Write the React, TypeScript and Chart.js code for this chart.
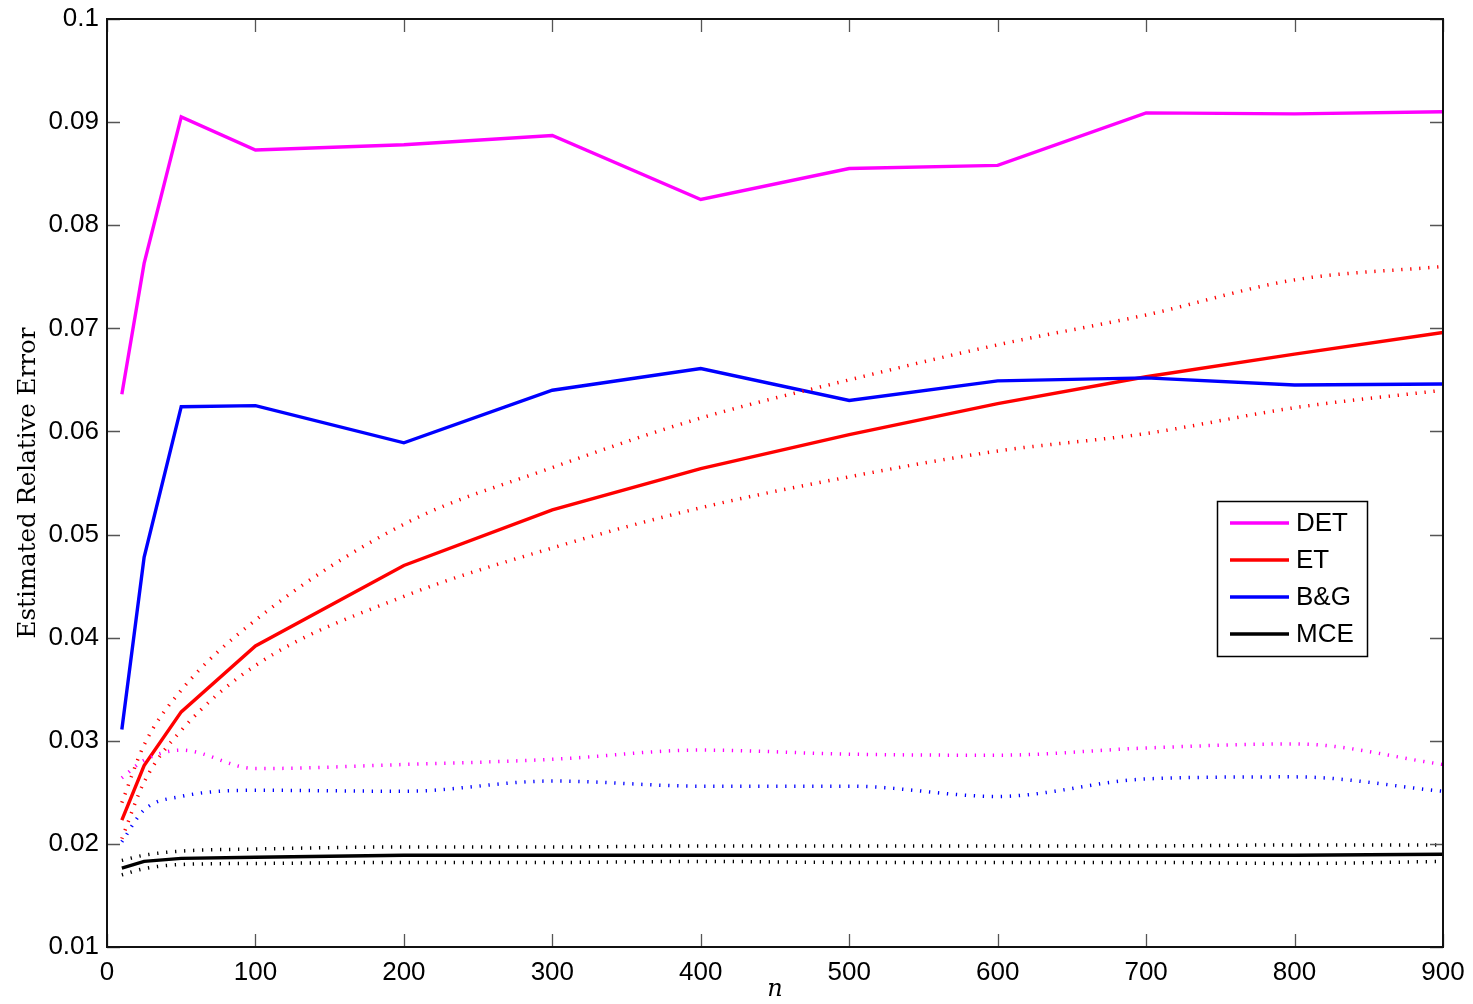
import React, { useEffect, useRef } from "react";
import { Chart, registerables } from "chart.js";

Chart.register(...registerables);

// ---- Data ----
const nValues = [10, 25, 50, 100, 200, 300, 400, 500, 600, 700, 800, 900];

const detMean = [0.0636, 0.0763, 0.0905, 0.0873, 0.0878, 0.0887, 0.0825, 0.0855, 0.0858, 0.0909, 0.0908, 0.0910];
const detLower = [0.0264, 0.0281, 0.0291, 0.0273, 0.0277, 0.0282, 0.0291, 0.0287, 0.0286, 0.0293, 0.0297, 0.0277];

const etMean = [0.0223, 0.0276, 0.0328, 0.0392, 0.0470, 0.0524, 0.0564, 0.0597, 0.0627, 0.0653, 0.0675, 0.0696];
const etUpper = [0.0240, 0.0296, 0.0349, 0.0417, 0.0510, 0.0565, 0.0613, 0.0650, 0.0684, 0.0713, 0.0747, 0.0760];
const etLower = [0.0205, 0.0260, 0.0310, 0.0373, 0.0440, 0.0487, 0.0526, 0.0556, 0.0581, 0.0598, 0.0623, 0.0640];

const bgMean = [0.0311, 0.0478, 0.0624, 0.0625, 0.0589, 0.0640, 0.0661, 0.0630, 0.0649, 0.0652, 0.0645, 0.0646];
const bgLower = [0.0202, 0.0233, 0.0246, 0.0252, 0.0251, 0.0261, 0.0256, 0.0256, 0.0246, 0.0263, 0.0265, 0.0251];

const mceMean = [0.01766, 0.0183, 0.0186, 0.0187, 0.0189, 0.0189, 0.0189, 0.0189, 0.0189, 0.0189, 0.0189, 0.0190];
const mceUpper = [0.0184, 0.0189, 0.0193, 0.0195, 0.0197, 0.0197, 0.0198, 0.0198, 0.0198, 0.0198, 0.0199, 0.0199];
const mceLower = [0.0170, 0.0176, 0.0180, 0.0181, 0.0182, 0.0182, 0.0183, 0.0182, 0.0182, 0.0182, 0.0181, 0.0183];

const legendLabels = ["DET", "ET", "B&G", "MCE"];
const legendColors = ["#ff00ff", "#ff0000", "#0000ff", "#000000"];

const xTicks = [0, 100, 200, 300, 400, 500, 600, 700, 800, 900];
const yTicks = [0.01, 0.02, 0.03, 0.04, 0.05, 0.06, 0.07, 0.08, 0.09, 0.1];

const yTitle = "Estimated Relative Error";
const xTitle = "n";

const pts = (ys: number[]) => nValues.map((x, i) => ({ x, y: ys[i] }));

const TICK_FONT = "'Liberation Sans', Arial, Helvetica, sans-serif";
const SERIF = "'DejaVu Serif', 'Liberation Serif', serif";

export default function App() {
  const ref = useRef<HTMLCanvasElement | null>(null);

  useEffect(() => {
    document.body.style.margin = "0";
    const canvas = ref.current;
    if (!canvas) return;

    const solid = (data: number[], color: string) => ({
      data: pts(data),
      borderColor: color,
      backgroundColor: color,
      borderWidth: 3.4,
      pointRadius: 0,
      tension: 0,
      fill: false,
    });
    const dotted = (data: number[], color: string) => ({
      data: pts(data),
      borderColor: color,
      backgroundColor: color,
      borderWidth: 3.5,
      borderDash: [1.3, 7.7],
      borderCapStyle: "butt",
      pointRadius: 0,
      cubicInterpolationMode: "monotone" as const,
      fill: false,
    });

    const boxPlugin = {
      id: "matlabBox",
      afterDraw(chart: any) {
        const ctx = chart.ctx as CanvasRenderingContext2D;
        const { left, right, top, bottom } = chart.chartArea;
        const xs = chart.scales.x;
        const ys = chart.scales.y;
        ctx.save();
        ctx.strokeStyle = "#555";
        ctx.lineWidth = 1.3;
        const tl = 13;
        ctx.beginPath();
        for (const v of yTicks) {
          const py = Math.round(ys.getPixelForValue(v)) + 0.5;
          ctx.moveTo(left, py);
          ctx.lineTo(left + tl, py);
          ctx.moveTo(right, py);
          ctx.lineTo(right - tl, py);
        }
        for (const v of xTicks) {
          const px = Math.round(xs.getPixelForValue(v)) + 0.5;
          ctx.moveTo(px, bottom);
          ctx.lineTo(px, bottom - tl);
          ctx.moveTo(px, top);
          ctx.lineTo(px, top + tl);
        }
        ctx.stroke();
        ctx.strokeStyle = "#111";
        ctx.lineWidth = 2;
        ctx.strokeRect(Math.round(left), Math.round(top), Math.round(right - left), Math.round(bottom - top));

        // legend
        const lx = 1217, ly = 501, lw = 150, lh = 155;
        ctx.fillStyle = "#fff";
        ctx.fillRect(lx, ly, lw, lh);
        ctx.lineWidth = 1.5;
        ctx.strokeStyle = "#000";
        ctx.strokeRect(lx + 0.5, ly + 0.5, lw, lh);
        ctx.font = `26px ${TICK_FONT}`;
        ctx.textBaseline = "middle";
        ctx.textAlign = "left";
        legendLabels.forEach((lab, i) => {
          const y = 523 + i * 37;
          ctx.strokeStyle = legendColors[i];
          ctx.lineWidth = 3.4;
          ctx.beginPath();
          ctx.moveTo(1230, y);
          ctx.lineTo(1289, y);
          ctx.stroke();
          ctx.fillStyle = "#000";
          ctx.fillText(lab, 1296, y + 1);
        });
        ctx.restore();
      },
    };

    const chart = new Chart(canvas, {
      type: "line",
      data: {
        datasets: [
          dotted(mceUpper, "#000000"),
          dotted(mceLower, "#000000"),
          dotted(bgLower, "#0000ff"),
          dotted(detLower, "#ff00ff"),
          dotted(etUpper, "#ff0000"),
          dotted(etLower, "#ff0000"),
          solid(mceMean, "#000000"),
          solid(bgMean, "#0000ff"),
          solid(etMean, "#ff0000"),
          solid(detMean, "#ff00ff"),
        ] as any,
      },
      options: {
        responsive: false,
        animation: false,
        devicePixelRatio: 1,
        layout: { padding: { top: 19, right: 30, left: 0, bottom: 0 } },
        plugins: { legend: { display: false }, tooltip: { enabled: false } },
        scales: {
          x: {
            type: "linear",
            min: 0,
            max: 900,
            grid: { display: false, drawTicks: false },
            border: { display: false },
            ticks: {
              stepSize: 100,
              padding: 10,
              color: "#000",
              maxRotation: 0,
              font: { family: TICK_FONT, size: 26 },
            },
            title: {
              display: true,
              text: xTitle,
              color: "#000",
              font: { family: SERIF, size: 24, style: "italic" },
              padding: { top: 0, bottom: 0 },
            },
            afterFit: (s: any) => {
              s.height = 57;
              s.paddingLeft = 0;
              s.paddingRight = 0;
            },
          },
          y: {
            type: "linear",
            min: 0.01,
            max: 0.1,
            grid: { display: false, drawTicks: false },
            border: { display: false },
            ticks: {
              stepSize: 0.01,
              padding: 8,
              color: "#000",
              font: { family: TICK_FONT, size: 26 },
              callback: (v: any) => String(Number(Number(v).toFixed(2))),
            },
            title: {
              display: true,
              text: yTitle,
              color: "#000",
              font: { family: SERIF, size: 24.5 },
              padding: { top: 14, bottom: 0 },
            },
            afterFit: (s: any) => {
              s.width = 107;
              s.paddingTop = 0;
              s.paddingBottom = 0;
            },
          },
        },
      },
      plugins: [boxPlugin],
    });

    return () => chart.destroy();
  }, []);

  return (
    <div style={{ position: "fixed", left: 0, top: 0, width: 1473, height: 1004, background: "#fff" }}>
      <canvas ref={ref} width={1473} height={1004} style={{ width: 1473, height: 1004, display: "block" }} />
    </div>
  );
}
